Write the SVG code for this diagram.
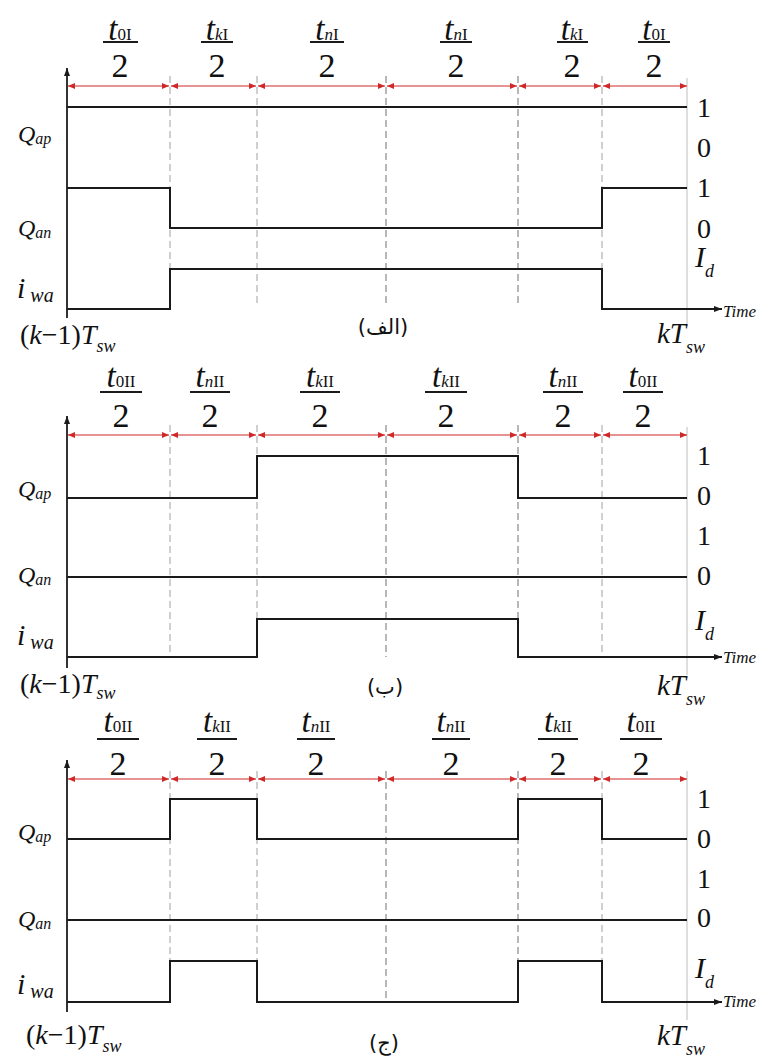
<svg xmlns="http://www.w3.org/2000/svg" width="771" height="1057" viewBox="0 0 771 1057" font-family="'Liberation Serif', 'DejaVu Serif', serif">
<defs>
<style>
.sig{fill:none;stroke:#1a1a1a;stroke-width:2}
.dl{stroke:#a0a0a0;stroke-width:1;stroke-dasharray:7 4}
.dd{stroke:#707070;stroke-width:1;stroke-dasharray:7 4}
.kt{stroke:#c8c8c8;stroke-width:1.2}
.red{stroke:#d02828;stroke-width:1.2;marker-start:url(#ra);marker-end:url(#ra)}
.ax{stroke:#333;stroke-width:2;marker-end:url(#ba)}
.tax{marker-end:url(#ba)}
.bar{stroke:#1a1a1a;stroke-width:2}
text{font-family:'Liberation Serif','DejaVu Serif',serif;fill:#111}
.it{font-style:italic}
.up{font-style:normal}
text.ar{font-family:'DejaVu Sans','Noto Sans',sans-serif;font-size:21px;fill:#111}
.t{font-size:33px;font-style:italic}
.s{font-size:17px}
.two{font-size:34px}
.lv{font-size:28px}
.q{font-size:24px;font-style:italic}
.qs{font-size:16px}
.iw{font-size:30px;font-style:italic}
.ws{font-size:20px}
.tl{font-size:17px;font-style:italic}
.ks{font-size:28px}
.kk{font-size:29px}
.kss{font-size:18px;font-style:italic}
</style>
<marker id="ra" viewBox="0 0 7 6" refX="7" refY="3" markerWidth="7" markerHeight="6" markerUnits="userSpaceOnUse" orient="auto-start-reverse"><path d="M0,0 L7,3 L0,6 z" fill="#d02828"/></marker>
<marker id="ba" viewBox="0 0 8 6" refX="8" refY="3" markerWidth="8" markerHeight="6" markerUnits="userSpaceOnUse" orient="auto"><path d="M0,0 L8,3 L0,6 z" fill="#1a1a1a"/></marker>
</defs>

<!-- ================= PANEL A ================= -->
<g id="panel-a">
<g id="a-grid">
<line class="dl" x1="170" y1="76" x2="170" y2="307"/>
<line class="dl" x1="257" y1="76" x2="257" y2="307"/>
<line class="dd" x1="386" y1="76" x2="386" y2="307"/>
<line class="dd" x1="518" y1="76" x2="518" y2="307"/>
<line class="dl" x1="602" y1="76" x2="602" y2="307"/>
<line class="kt" x1="687" y1="78" x2="687" y2="326"/>
</g>
<g id="a-connectors">
<line class="red" x1="68" y1="86" x2="169" y2="86"/>
<line class="red" x1="171" y1="86" x2="256" y2="86"/>
<line class="red" x1="258" y1="86" x2="385" y2="86"/>
<line class="red" x1="387" y1="86" x2="517" y2="86"/>
<line class="red" x1="519" y1="86" x2="601" y2="86"/>
<line class="red" x1="603" y1="86" x2="687" y2="86"/>
<line class="ax" x1="67" y1="318" x2="67" y2="68"/>
</g>
<g id="a-qap"><path class="sig" d="M67,107 H687"/></g>
<g id="a-qan"><path class="sig" d="M67,188 H170 V228 H602 V188 H687"/></g>
<g id="a-iwa"><path class="sig tax" d="M67,309 H170 V269 H602 V309 H722"/></g>
<g id="a-fractions">
<g id="a-f1"><text x="120" y="40" text-anchor="middle" class="t">t<tspan class="s up">0I</tspan></text><line class="bar" x1="103" y1="42" x2="138" y2="42"/><text x="120" y="77" text-anchor="middle" class="two">2</text></g>
<g id="a-f2"><text x="217" y="40" text-anchor="middle" class="t">t<tspan class="s">k</tspan><tspan class="s up">I</tspan></text><line class="bar" x1="201" y1="42" x2="233" y2="42"/><text x="217" y="77" text-anchor="middle" class="two">2</text></g>
<g id="a-f3"><text x="327" y="40" text-anchor="middle" class="t">t<tspan class="s">n</tspan><tspan class="s up">I</tspan></text><line class="bar" x1="310" y1="42" x2="344" y2="42"/><text x="327" y="77" text-anchor="middle" class="two">2</text></g>
<g id="a-f4"><text x="456" y="40" text-anchor="middle" class="t">t<tspan class="s">n</tspan><tspan class="s up">I</tspan></text><line class="bar" x1="440" y1="42" x2="472" y2="42"/><text x="456" y="77" text-anchor="middle" class="two">2</text></g>
<g id="a-f5"><text x="572" y="40" text-anchor="middle" class="t">t<tspan class="s">k</tspan><tspan class="s up">I</tspan></text><line class="bar" x1="557" y1="42" x2="588" y2="42"/><text x="572" y="77" text-anchor="middle" class="two">2</text></g>
<g id="a-f6"><text x="654" y="40" text-anchor="middle" class="t">t<tspan class="s up">0I</tspan></text><line class="bar" x1="638" y1="42" x2="670" y2="42"/><text x="654" y="77" text-anchor="middle" class="two">2</text></g>
</g>
<g id="a-left">
<text x="18" y="142" class="q">Q<tspan class="qs" dy="2">ap</tspan></text>
<text x="18" y="236" class="q">Q<tspan class="qs" dy="2">an</tspan></text>
<text x="17" y="298" class="iw">i<tspan class="ws" dy="4"> wa</tspan></text>
<text x="20" y="344" class="ks">(<tspan class="it">k</tspan>−1)<tspan class="it">T</tspan><tspan class="kss" dy="8">sw</tspan></text>
</g>
<g id="a-right">
<text x="697" y="117" class="lv">1</text>
<text x="697" y="157" class="lv">0</text>
<text x="697" y="197" class="lv">1</text>
<text x="697" y="238" class="lv">0</text>
<text x="695" y="267" class="iw">I<tspan class="kss" dy="10">d</tspan></text>
<text x="723" y="317" class="tl">Time</text>
<text x="657" y="343" class="kk it">kT<tspan class="kss" dy="10">sw</tspan></text>
</g>
<text id="a-caption" class="ar" x="383" y="334" text-anchor="middle">(الف)</text>
</g>

<!-- ================= PANEL B ================= -->
<g id="panel-b">
<g id="b-grid">
<line class="dl" x1="170" y1="425" x2="170" y2="657"/>
<line class="dl" x1="257" y1="425" x2="257" y2="657"/>
<line class="dd" x1="386" y1="425" x2="386" y2="657"/>
<line class="dd" x1="518" y1="425" x2="518" y2="657"/>
<line class="dl" x1="602" y1="425" x2="602" y2="657"/>
<line class="kt" x1="687" y1="427" x2="687" y2="675"/>
</g>
<g id="b-connectors">
<line class="red" x1="68" y1="435" x2="169" y2="435"/>
<line class="red" x1="171" y1="435" x2="256" y2="435"/>
<line class="red" x1="258" y1="435" x2="385" y2="435"/>
<line class="red" x1="387" y1="435" x2="517" y2="435"/>
<line class="red" x1="519" y1="435" x2="601" y2="435"/>
<line class="red" x1="603" y1="435" x2="687" y2="435"/>
<line class="ax" x1="67" y1="668" x2="67" y2="416"/>
</g>
<g id="b-qap"><path class="sig" d="M67,498 H257 V456 H518 V498 H687"/></g>
<g id="b-qan"><path class="sig" d="M67,577 H687"/></g>
<g id="b-iwa"><path class="sig tax" d="M67,657 H257 V619 H518 V657 H722"/></g>
<g id="b-fractions">
<g id="b-f1"><text x="121" y="387" text-anchor="middle" class="t">t<tspan class="s up">0II</tspan></text><line class="bar" x1="100" y1="392" x2="142" y2="392"/><text x="121" y="427" text-anchor="middle" class="two">2</text></g>
<g id="b-f2"><text x="210" y="387" text-anchor="middle" class="t">t<tspan class="s">n</tspan><tspan class="s up">II</tspan></text><line class="bar" x1="190" y1="392" x2="230" y2="392"/><text x="210" y="427" text-anchor="middle" class="two">2</text></g>
<g id="b-f3"><text x="320" y="387" text-anchor="middle" class="t">t<tspan class="s">k</tspan><tspan class="s up">II</tspan></text><line class="bar" x1="300" y1="392" x2="340" y2="392"/><text x="320" y="427" text-anchor="middle" class="two">2</text></g>
<g id="b-f4"><text x="446" y="387" text-anchor="middle" class="t">t<tspan class="s">k</tspan><tspan class="s up">II</tspan></text><line class="bar" x1="425" y1="392" x2="467" y2="392"/><text x="446" y="427" text-anchor="middle" class="two">2</text></g>
<g id="b-f5"><text x="563" y="387" text-anchor="middle" class="t">t<tspan class="s">n</tspan><tspan class="s up">II</tspan></text><line class="bar" x1="543" y1="392" x2="583" y2="392"/><text x="563" y="427" text-anchor="middle" class="two">2</text></g>
<g id="b-f6"><text x="643" y="387" text-anchor="middle" class="t">t<tspan class="s up">0II</tspan></text><line class="bar" x1="623" y1="392" x2="663" y2="392"/><text x="643" y="427" text-anchor="middle" class="two">2</text></g>
</g>
<g id="b-left">
<text x="18" y="497" class="q">Q<tspan class="qs" dy="2">ap</tspan></text>
<text x="18" y="583" class="q">Q<tspan class="qs" dy="2">an</tspan></text>
<text x="17" y="645" class="iw">i<tspan class="ws" dy="4"> wa</tspan></text>
<text x="20" y="693" class="ks">(<tspan class="it">k</tspan>−1)<tspan class="it">T</tspan><tspan class="kss" dy="6">sw</tspan></text>
</g>
<g id="b-right">
<text x="697" y="465" class="lv">1</text>
<text x="697" y="505" class="lv">0</text>
<text x="697" y="545" class="lv">1</text>
<text x="697" y="585" class="lv">0</text>
<text x="695" y="630" class="iw">I<tspan class="kss" dy="10">d</tspan></text>
<text x="723" y="663" class="tl">Time</text>
<text x="657" y="695" class="kk it">kT<tspan class="kss" dy="10">sw</tspan></text>
</g>
<text id="b-caption" class="ar" x="385" y="694" text-anchor="middle">(ب)</text>
</g>

<!-- ================= PANEL C ================= -->
<g id="panel-c">
<g id="c-grid">
<line class="dl" x1="170" y1="771" x2="170" y2="1001"/>
<line class="dl" x1="257" y1="771" x2="257" y2="1001"/>
<line class="dd" x1="386" y1="771" x2="386" y2="1001"/>
<line class="dd" x1="518" y1="771" x2="518" y2="1001"/>
<line class="dl" x1="602" y1="771" x2="602" y2="1001"/>
<line class="kt" x1="687" y1="771" x2="687" y2="1020"/>
</g>
<g id="c-connectors">
<line class="red" x1="68" y1="779" x2="169" y2="779"/>
<line class="red" x1="171" y1="779" x2="256" y2="779"/>
<line class="red" x1="258" y1="779" x2="385" y2="779"/>
<line class="red" x1="387" y1="779" x2="517" y2="779"/>
<line class="red" x1="519" y1="779" x2="601" y2="779"/>
<line class="red" x1="603" y1="779" x2="687" y2="779"/>
<line class="ax" x1="67" y1="1012" x2="67" y2="760"/>
</g>
<g id="c-qap"><path class="sig" d="M67,839 H170 V799 H257 V839 H518 V799 H602 V839 H687"/></g>
<g id="c-qan"><path class="sig" d="M67,920 H687"/></g>
<g id="c-iwa"><path class="sig tax" d="M67,1002 H170 V961 H257 V1002 H518 V961 H602 V1002 H722"/></g>
<g id="c-fractions">
<g id="c-f1"><text x="118" y="732" text-anchor="middle" class="t">t<tspan class="s up">0II</tspan></text><line class="bar" x1="97" y1="739" x2="139" y2="739"/><text x="118" y="775" text-anchor="middle" class="two">2</text></g>
<g id="c-f2"><text x="217" y="732" text-anchor="middle" class="t">t<tspan class="s">k</tspan><tspan class="s up">II</tspan></text><line class="bar" x1="197" y1="739" x2="237" y2="739"/><text x="217" y="775" text-anchor="middle" class="two">2</text></g>
<g id="c-f3"><text x="316" y="732" text-anchor="middle" class="t">t<tspan class="s">n</tspan><tspan class="s up">II</tspan></text><line class="bar" x1="297" y1="739" x2="335" y2="739"/><text x="316" y="775" text-anchor="middle" class="two">2</text></g>
<g id="c-f4"><text x="451" y="732" text-anchor="middle" class="t">t<tspan class="s">n</tspan><tspan class="s up">II</tspan></text><line class="bar" x1="432" y1="739" x2="470" y2="739"/><text x="451" y="775" text-anchor="middle" class="two">2</text></g>
<g id="c-f5"><text x="558" y="732" text-anchor="middle" class="t">t<tspan class="s">k</tspan><tspan class="s up">II</tspan></text><line class="bar" x1="538" y1="739" x2="578" y2="739"/><text x="558" y="775" text-anchor="middle" class="two">2</text></g>
<g id="c-f6"><text x="641" y="732" text-anchor="middle" class="t">t<tspan class="s up">0II</tspan></text><line class="bar" x1="620" y1="739" x2="662" y2="739"/><text x="641" y="775" text-anchor="middle" class="two">2</text></g>
</g>
<g id="c-left">
<text x="18" y="840" class="q">Q<tspan class="qs" dy="2">ap</tspan></text>
<text x="18" y="927" class="q">Q<tspan class="qs" dy="2">an</tspan></text>
<text x="17" y="994" class="iw">i<tspan class="ws" dy="4"> wa</tspan></text>
<text x="26" y="1044" class="ks">(<tspan class="it">k</tspan>−1)<tspan class="it">T</tspan><tspan class="kss" dy="8">sw</tspan></text>
</g>
<g id="c-right">
<text x="697" y="808" class="lv">1</text>
<text x="697" y="848" class="lv">0</text>
<text x="697" y="888" class="lv">1</text>
<text x="697" y="927" class="lv">0</text>
<text x="695" y="978" class="iw">I<tspan class="kss" dy="10">d</tspan></text>
<text x="723" y="1007" class="tl">Time</text>
<text x="657" y="1045" class="kk it">kT<tspan class="kss" dy="10">sw</tspan></text>
</g>
<text id="c-caption" class="ar" x="384" y="1050" text-anchor="middle">(ج)</text>
</g>
</svg>
